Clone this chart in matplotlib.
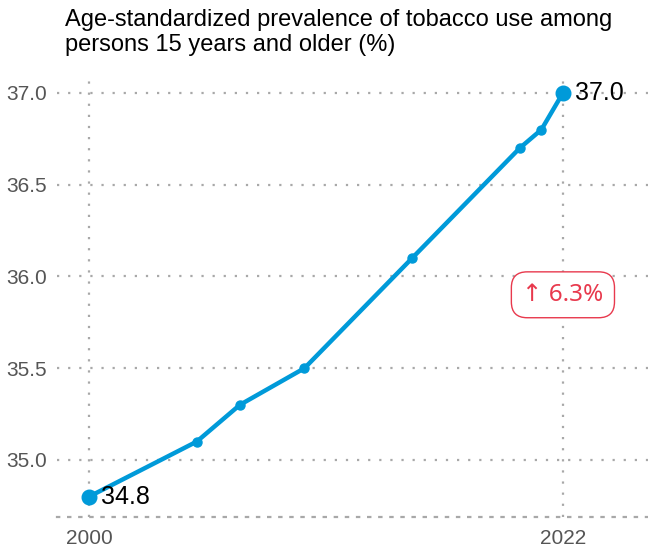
import matplotlib
matplotlib.use('Agg')
import matplotlib.pyplot as plt

years = [2000, 2005, 2007, 2010, 2015, 2020, 2021, 2022]
prevalence = [34.8, 35.1, 35.3, 35.5, 36.1, 36.7, 36.8, 37.0]
yticks = [35.0, 35.5, 36.0, 36.5, 37.0]
xticks = [2000, 2022]
title = 'Age-standardized prevalence of tobacco use among\npersons 15 years and older (%)'
change_label = '\u2191 6.3%'

blue = '#009ad9'
red = '#e8394d'
grid_col = '#a8a8a8'

plt.rcParams['font.family'] = ['Liberation Sans', 'DejaVu Sans']

fig = plt.figure(figsize=(6.48, 5.48), dpi=100)
ax = fig.add_axes([57 / 648, 1 - 517 / 548, 591 / 648, 438 / 548])

ax.plot(years, prevalence, color=blue, lw=3.2, marker='o', ms=6.5, zorder=3,
        solid_capstyle='round')
ax.plot([years[0], years[-1]], [prevalence[0], prevalence[-1]], 'o', color=blue,
        ms=10.5, zorder=4)

ax.text(years[0] + 0.55, prevalence[0], '%.1f' % prevalence[0], fontsize=18,
        va='center', ha='left', color='black', zorder=5)
ax.text(years[-1] + 0.55, prevalence[-1], '%.1f' % prevalence[-1], fontsize=18,
        va='center', ha='left', color='black', zorder=5)

ax.text(years[-1], 35.9, change_label, fontsize=17.5, color=red, ha='center', va='center',
        family=['Noto Sans', 'DejaVu Sans'], zorder=5,
        bbox=dict(boxstyle='round,pad=0.45,rounding_size=0.65', fc='white', ec=red, lw=1))

ax.set_xlim(1998.51, 2025.95)
ax.set_ylim(34.689, 37.076)
ax.set_xticks(xticks)
ax.set_yticks(yticks)
ax.set_yticklabels(['%.1f' % v for v in yticks])
ax.tick_params(length=0, labelsize=15, colors='#555555')
ax.tick_params(axis='x', pad=9)
ax.tick_params(axis='y', pad=7)
ax.grid(True, linestyle=(0, (1, 4)), color=grid_col, lw=1.6)
for s in ['top', 'right', 'left']:
    ax.spines[s].set_visible(False)
ax.spines['bottom'].set_linestyle((0, (1, 4)))
ax.spines['bottom'].set_color(grid_col)
ax.spines['bottom'].set_linewidth(1.6)

fig.text(65 / 648, 1 - 9 / 548, title, fontsize=17, va='top', ha='left', color='black',
         linespacing=1.15)

fig.savefig('out.png', dpi=100)
